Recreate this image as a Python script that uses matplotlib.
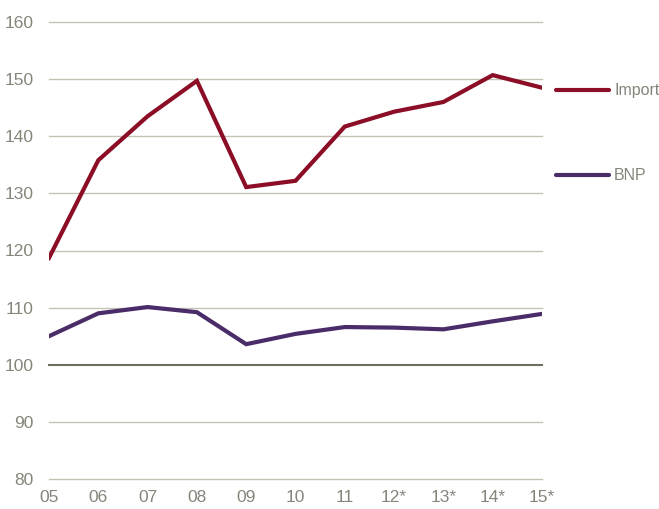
import matplotlib
matplotlib.use("Agg")
import matplotlib.pyplot as plt

years = ["05", "06", "07", "08", "09", "10", "11", "12*", "13*", "14*", "15*"]
import_vals = [118.7, 135.8, 143.5, 149.7, 131.1, 132.2, 141.7, 144.3, 146.0, 150.7, 148.5]
bnp_vals = [105.0, 109.0, 110.1, 109.2, 103.6, 105.4, 106.6, 106.5, 106.2, 107.6, 108.9]
yticks = [80, 90, 100, 110, 120, 130, 140, 150, 160]

plt.rcParams['font.family'] = ['Liberation Sans', 'DejaVu Sans']

c_imp = "#8B0D26"
c_bnp = "#4A2C69"
c_txt = "#85857A"

fig = plt.figure(figsize=(6.59, 5.09), dpi=100)
ax = fig.add_axes([49/659, 1 - 479/509, (542-49)/659, (479-22)/509])

x = list(range(len(years)))
for t in yticks:
    if t == 100:
        ax.axhline(t, color="#6E6D60", lw=1.5, zorder=1, clip_on=False)
    else:
        ax.axhline(t, color="#C4C3B5", lw=1.0, zorder=1, clip_on=False)

ax.plot(x, import_vals, color=c_imp, lw=3.0, solid_joinstyle="miter", zorder=3)
ax.plot(x, bnp_vals, color=c_bnp, lw=3.0, solid_joinstyle="miter", zorder=3)

ax.set_xlim(0, 10)
ax.set_ylim(80, 160)
ax.set_xticks(x)
ax.set_xticklabels(years)
ax.set_yticks(yticks)
ax.tick_params(length=0, labelsize=12.5, colors=c_txt)
ax.tick_params(axis="y", pad=11)
ax.tick_params(axis="x", pad=8)
for s in ax.spines.values():
    s.set_visible(False)

# legend at right
for label, col, ypx in [("Import", c_imp, 90), ("BNP", c_bnp, 175)]:
    yf = 1 - ypx / 509
    fig.add_artist(plt.Line2D([556/659, 609/659], [yf, yf], color=col, lw=3.0,
                              solid_capstyle="round", transform=fig.transFigure))
    fig.text(614/659, yf, label, color=c_txt, fontsize=11.5, va="center", ha="left")

fig.savefig("out.png", dpi=100)
